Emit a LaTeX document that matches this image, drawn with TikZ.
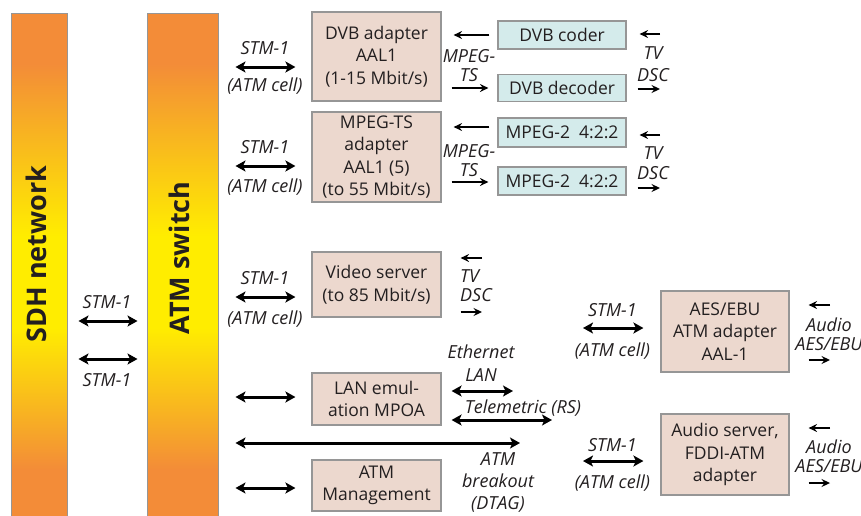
\documentclass[tikz,border=0pt]{standalone}
\usepackage{fontspec}
\setmainfont{Open Sans}
\usetikzlibrary{arrows.meta}
\definecolor{barorange}{RGB}{243,140,56}
\definecolor{baryellow}{RGB}{255,237,0}
\definecolor{unitpink}{RGB}{236,216,206}
\definecolor{codeccyan}{RGB}{212,235,235}
\definecolor{edgegray}{RGB}{150,150,150}
\definecolor{inkgray}{RGB}{35,31,32}
\pgfdeclareverticalshading{barshade}{100bp}{color(0bp)=(barorange); color(30bp)=(barorange);
  color(44bp)=(baryellow); color(53bp)=(baryellow); color(70bp)=(barorange); color(100bp)=(barorange)}

\begin{document}
\begin{tikzpicture}[x=1pt,y=-1pt,
    bar/.style={draw=edgegray, line width=1pt, shade, shading=barshade, minimum height=507pt, inner sep=0pt},
    bartext/.style={rotate=90, font=\fontsize{27}{27}\selectfont\bfseries, text=inkgray},
    unit/.style={draw=edgegray, line width=1.2pt, fill=unitpink, align=center, inner sep=0pt,
      text=inkgray, font=\fontsize{17.5}{22.5}\selectfont},
    codec/.style={unit, fill=codeccyan, minimum width=128pt},
    lab/.style={font=\fontsize{18}{19}\selectfont\itshape, text=inkgray, align=center, inner sep=0pt},
    link/.style={line width=3pt, shorten <=17pt, shorten >=16pt,
      {Stealth[length=10pt,width=11pt,inset=2.5pt]}-{Stealth[length=10pt,width=11pt,inset=2.5pt]}},
    flow/.style={line width=1.3pt, -{Stealth[length=8.5pt,width=8pt,inset=3pt]}}]
  \useasboundingbox (0,0) rectangle (861,515);

  % the two bars
  \node[bar, minimum width=56pt] (sdh) at (39,266.5) {};
  \node[bar, minimum width=71pt] (atm) at (182.5,266.5) {};
  \node[bartext] at (36,254) {SDH network};
  \node[bartext] at (179,258) {ATM switch};

  % adapters and codecs
  \node[unit, minimum width=129pt, minimum height=89pt] (dvbad) at (376.5,56.5) {DVB adapter\\AAL1\\(1-15 Mbit/s)};
  \node[unit, minimum width=129pt, minimum height=90pt] (tsad) at (376.5,157) {MPEG-TS\\adapter\\AAL1 (5)\\(to 55 Mbit/s)};
  \node[codec, minimum height=28pt] (dvbcod) at (562,35) {DVB coder};
  \node[codec, minimum height=27pt] (dvbdec) at (562,88) {DVB decoder};
  \node[codec, minimum height=29pt] (mpegin) at (562,132.5) {MPEG-2~~4:2:2};
  \node[codec, minimum height=28pt] (mpegout) at (562,181) {MPEG-2~~4:2:2};
  \node[unit, minimum width=129pt, minimum height=65pt] (vidsrv) at (376.5,284.5) {Video server\\(to 85 Mbit/s)};
  \node[unit, minimum width=129pt, minimum height=52pt] (lanem) at (376.5,399) {LAN emul-\\ation MPOA};
  \node[unit, minimum width=129pt, minimum height=51pt] (mgmt) at (376.5,485.5) {ATM\\Management};
  \node[unit, minimum width=128pt, minimum height=81pt] (aes) at (725,331.5) {AES/EBU\\ATM adapter\\AAL-1};
  \node[unit, minimum width=128pt, minimum height=81pt] (audsrv) at (725,454.5) {Audio server,\\FDDI-ATM\\adapter};

  % rows of the connectors
  \coordinate (sdhrow1) at (0,321);  \coordinate (sdhrow2) at (0,359);
  \coordinate (dvbrow) at (0,67);    \coordinate (tsrow) at (0,166);
  \coordinate (vidrow) at (0,297);   \coordinate (lanrow) at (0,397);
  \coordinate (mgmtrow) at (0,488);  \coordinate (brkrow) at (520,443);
  \coordinate (ethrow) at (513,391); \coordinate (telrow) at (552,420);
  \coordinate (aesrow) at (583,328); \coordinate (audrow) at (583,461);
  \coordinate (tsin) at (0,127);     \coordinate (tsout) at (0,182);
  \coordinate (tvin1) at (660,34);   \coordinate (tvout1) at (660,89);
  \coordinate (tvin2) at (660,135);  \coordinate (tvout2) at (660,188);
  \coordinate (vidin) at (482,258);  \coordinate (vidout) at (482,312);
  \coordinate (aesin) at (830,305);  \coordinate (aesout) at (830,360);
  \coordinate (audin) at (830,428);  \coordinate (audout) at (830,483);

  % STM-1 links
  \draw[link, shorten <=11pt, shorten >=9pt] (sdhrow1 -| sdh.east) -- (sdhrow1 -| atm.west)
    node[lab, midway, yshift=19pt] {STM-1};
  \draw[link, shorten <=11pt, shorten >=9pt] (sdhrow2 -| sdh.east) -- (sdhrow2 -| atm.west)
    node[lab, midway, yshift=-21pt] {STM-1};
  \draw[link] (dvbrow -| atm.east) -- (dvbrow -| dvbad.west)
    node[lab, midway, yshift=19pt] {STM-1} node[lab, midway, yshift=-19pt] {(ATM cell)};
  \draw[link] (tsrow -| atm.east) -- (tsrow -| tsad.west)
    node[lab, midway, yshift=19pt] {STM-1} node[lab, midway, yshift=-21pt] {(ATM cell)};
  \draw[link] (vidrow -| atm.east) -- (vidrow -| vidsrv.west)
    node[lab, midway, yshift=19pt] {STM-1} node[lab, midway, yshift=-22pt] {(ATM cell)};
  \draw[link] (lanrow -| atm.east) -- (lanrow -| lanem.west);
  \draw[link] (mgmtrow -| atm.east) -- (mgmtrow -| mgmt.west);
  \draw[link, shorten >=0pt] (brkrow -| atm.east) -- (brkrow);
  \draw[link, shorten <=10pt, shorten >=0pt] (ethrow -| lanem.east) -- (ethrow);
  \draw[link, shorten <=10pt, shorten >=0pt] (telrow -| lanem.east) -- (telrow);
  \draw[link, shorten <=0pt, shorten >=17pt] (aesrow) -- (aesrow -| aes.west)
    node[lab, pos=.38, yshift=18pt] {STM-1} node[lab, pos=.38, yshift=-23pt] {(ATM cell)};
  \draw[link, shorten <=0pt, shorten >=17pt] (audrow) -- (audrow -| audsrv.west)
    node[lab, pos=.38, yshift=16pt] {STM-1} node[lab, pos=.38, yshift=-22pt] {(ATM cell)};

  % MPEG-TS and TV feeds
  \draw[flow, shorten <=8pt, shorten >=12pt] (dvbcod.west) -- (dvbcod.west -| dvbad.east);
  \draw[flow, shorten <=10pt, shorten >=9pt] (dvbdec.west -| dvbad.east) -- (dvbdec.west);
  \draw[flow, shorten <=8pt, shorten >=12pt] (tsin -| mpegin.west) -- (tsin -| tsad.east);
  \draw[flow, shorten <=10pt, shorten >=9pt] (tsout -| tsad.east) -- (tsout -| mpegout.west);
  \draw[flow, shorten >=13pt] (tvin1) -- (tvin1 -| dvbcod.east);
  \draw[flow, shorten <=11pt] (tvout1 -| dvbdec.east) -- (tvout1);
  \draw[flow, shorten >=13pt] (tvin2) -- (tvin2 -| mpegin.east);
  \draw[flow, shorten <=11pt] (tvout2 -| mpegout.east) -- (tvout2);
  \draw[flow, shorten >=19pt] (vidin) -- (vidin -| vidsrv.east);
  \draw[flow, shorten <=19pt] (vidout -| vidsrv.east) -- (vidout);
  \draw[flow, shorten >=19pt] (aesin) -- (aesin -| aes.east);
  \draw[flow, shorten <=19pt] (aesout -| aes.east) -- (aesout);
  \draw[flow, shorten >=19pt] (audin) -- (audin -| audsrv.east);
  \draw[flow, shorten <=19pt] (audout -| audsrv.east) -- (audout);

  % free labels
  \node[lab] (ts1) at (469,66) {MPEG-\\TS};
  \node[lab] (ts2) at (469,161) {MPEG-\\TS};
  \node[lab, font=\fontsize{18}{22}\selectfont\itshape] (tv1) at (653,64) {TV\\DSC};
  \node[lab, font=\fontsize{18}{20}\selectfont\itshape] (tv2) at (653,163) {TV\\DSC};
  \node[lab, align=left, anchor=west] (tv3) at (460,286) {TV\\DSC};
  \node[lab, font=\fontsize{18}{23}\selectfont\itshape] (eth) at (481,363) {Ethernet\\LAN};
  \node[lab] (tel) at (523,408) {Telemetric (RS)};
  \node[lab, font=\fontsize{18}{22}\selectfont\itshape] (brk) at (498,482) {ATM\\breakout\\(DTAG)};
  \node[lab] (au1) at (829,334) {Audio\\AES/EBU};
  \node[lab] (au2) at (829,456) {Audio\\AES/EBU};
\end{tikzpicture}
\end{document}
